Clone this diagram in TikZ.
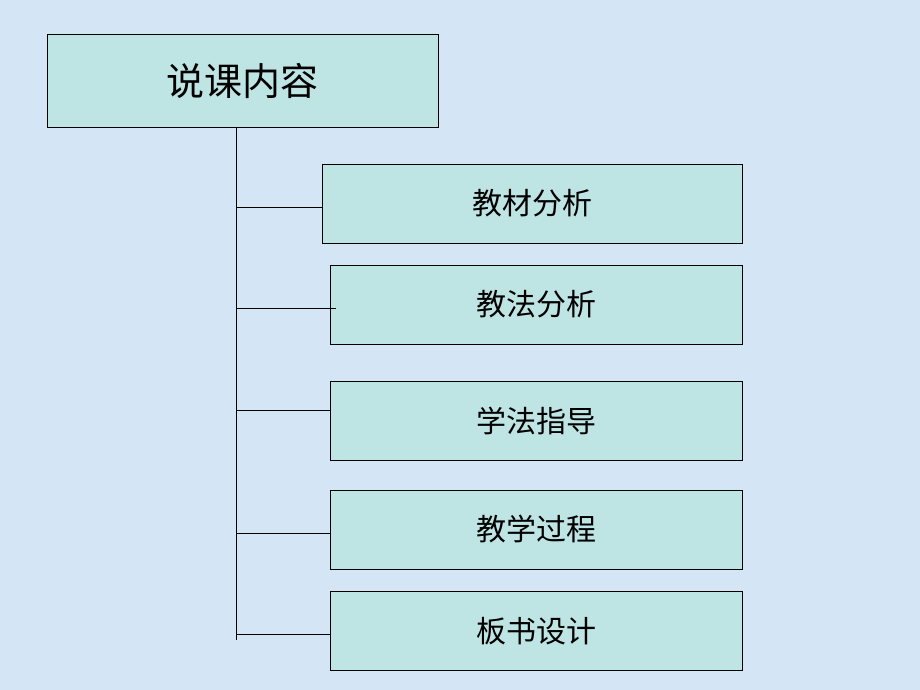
\documentclass[tikz,border=0pt]{standalone}
\usepackage{fontspec}
\newfontfamily\cjk{Noto Sans CJK SC}
\definecolor{bg}{RGB}{212,230,245}
\definecolor{boxfill}{RGB}{190,228,228}
\begin{document}
\begin{tikzpicture}[x=1pt,y=-1pt,
  box/.style={draw=black,fill=boxfill,line width=0.8pt,inner sep=0pt,font=\cjk\fontsize{30}{30}\selectfont},
  conn/.style={draw=black,line width=0.7pt}]
\fill[bg] (0,0) rectangle (920,690);
\useasboundingbox (0,0) rectangle (920,690);
\node[box,minimum width=391,minimum height=93,font=\cjk\fontsize{38}{38}\selectfont] (top) at (242.5,80.5) {说课内容};
\node[box,minimum width=420,minimum height=79] (b1) at (532,203.5) {教材分析};
\node[box,minimum width=412,minimum height=79] (b2) at (536,304.5) {教法分析};
\node[box,minimum width=412,minimum height=79] (b3) at (536,420.5) {学法指导};
\node[box,minimum width=412,minimum height=79] (b4) at (536,529.5) {教学过程};
\node[box,minimum width=412,minimum height=79] (b5) at (536,631) {板书设计};
\coordinate (vend) at (236,640);
\coordinate (vtop) at (236,127);
\draw[conn] (vtop) -- (vend);
\draw[conn] (236,207) -- (b1.west |- 0,207);
\draw[conn] (236,308) -- (336,308);
\draw[conn] (236,410) -- (b3.west |- 0,410);
\draw[conn] (236,533) -- (b4.west |- 0,533);
\draw[conn] (236,634) -- (b5.west |- 0,634);
\end{tikzpicture}
\end{document}
